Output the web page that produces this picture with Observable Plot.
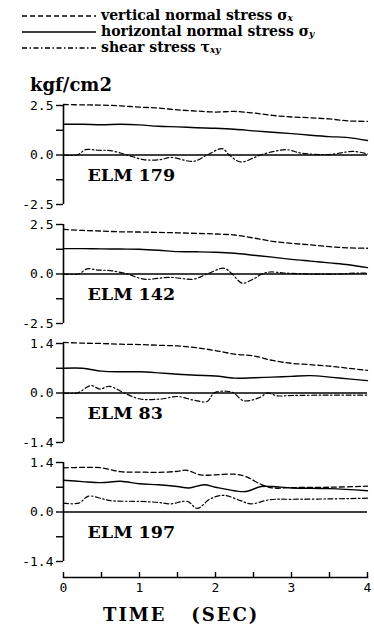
<!DOCTYPE html>
<html><head><meta charset="utf-8">
<script src="https://cdn.jsdelivr.net/npm/d3@7"></script>
<script src="https://cdn.jsdelivr.net/npm/@observablehq/plot@0.6"></script>
<style>
html,body{margin:0;padding:0;background:#fff;}
#root{position:relative;width:374px;height:629px;overflow:hidden;font-family:"DejaVu Serif",serif;color:#000;}
.abs{position:absolute;}
.lg{display:flex;align-items:center;height:16px;}
.lg span{font-weight:bold;font-size:14px;line-height:16px;margin-left:5px;white-space:nowrap;}
sub{font-size:9px;font-style:italic;vertical-align:-1px;line-height:0;}
</style></head>
<body><div id="root"></div>
<script>
// ---- data ----
const time = [0,0.25,0.5,0.75,1,1.25,1.5,1.75,2,2.25,2.5,2.75,3,3.25,3.5,3.75,4];

const elm179_sx = [2.55,2.53,2.52,2.48,2.42,2.37,2.28,2.22,2.17,2.2,2.12,2.0,1.92,1.88,1.82,1.72,1.7];
const elm179_sy = [1.55,1.55,1.53,1.55,1.52,1.45,1.42,1.38,1.35,1.3,1.22,1.15,1.08,1.0,0.93,0.88,0.73];
const elm179_tt = [0,0.18,0.29,0.45,0.62,0.84,1.05,1.28,1.41,1.71,1.89,2.09,2.18,2.33,2.5,2.59,2.77,2.94,3.12,3.47,3.82,4];
const elm179_txy = [0,0,0.27,0.24,0.22,0,-0.23,-0.23,-0.12,-0.32,0,0.32,0,-0.35,-0.15,0,0.18,0.27,0.1,0.02,0.18,0.05];

const elm142_sx = [2.25,2.2,2.17,2.13,2.12,2.1,2.08,2.05,2.02,1.97,1.82,1.65,1.55,1.47,1.38,1.32,1.3];
const elm142_sy = [1.28,1.28,1.27,1.26,1.25,1.2,1.13,1.12,1.1,1.05,0.95,0.85,0.74,0.65,0.56,0.47,0.32];
const elm142_tt = [0,0.2,0.31,0.45,0.62,0.84,1.06,1.4,1.71,1.89,2.11,2.22,2.35,2.5,2.61,2.72,2.9,3.2,3.6,3.9,4];
const elm142_txy = [0,0,0.26,0.2,0.17,0,-0.26,-0.17,-0.26,0,0.29,0,-0.46,-0.25,0,0.1,0.05,0,0,0.05,0.04];

const elm83_sx = [1.43,1.41,1.4,1.38,1.37,1.35,1.33,1.28,1.2,1.1,1.05,0.92,0.84,0.8,0.76,0.7,0.64];
const elm83_sy = [0.7,0.7,0.62,0.6,0.6,0.57,0.53,0.5,0.48,0.42,0.43,0.45,0.47,0.49,0.45,0.4,0.35];
const elm83_tt = [0,0.18,0.36,0.48,0.6,0.8,1.01,1.28,1.5,1.71,1.89,1.98,2.15,2.24,2.37,2.59,2.68,2.81,3.0,3.5,4];
const elm83_txy = [0,0,0.21,0.11,0.19,0,-0.17,-0.17,-0.1,-0.2,-0.24,0,0.05,0,-0.22,-0.12,0,-0.08,-0.07,-0.06,-0.06];

const elm197_tx = [0,0.25,0.5,0.75,1,1.25,1.5,1.62,1.8,2,2.25,2.4,2.6,2.75,3,3.5,4];
const elm197_sx = [1.25,1.26,1.25,1.14,1.13,1.12,1.15,1.18,1.05,1.05,1.07,1.0,0.78,0.68,0.69,0.7,0.73];
const elm197_ty = [0,0.25,0.5,0.75,1,1.25,1.5,1.65,1.85,2,2.25,2.4,2.6,2.75,3,3.5,4];
const elm197_sy = [0.9,0.86,0.83,0.87,0.8,0.77,0.72,0.68,0.77,0.7,0.6,0.58,0.72,0.72,0.68,0.66,0.6];
const elm197_tt = [0,0.2,0.33,0.5,0.62,1.0,1.25,1.41,1.63,1.76,1.93,2.11,2.33,2.46,2.72,3.0,3.5,4];
const elm197_txy = [0.25,0.25,0.45,0.38,0.32,0.3,0.27,0.23,0.3,0.1,0.37,0.47,0.32,0.23,0.35,0.36,0.37,0.39];

const ticks25 = [2.5,1.25,0,-1.25,-2.5];
const labels25 = ["2.5","","0.0","","-2.5"];
const ticks14 = [1.4,0.7,0,-0.7,-1.4];
const labels14 = ["1.4","","0.0","","-1.4"];
const xTicks = [0,0.5,1,1.5,2,2.5,3,3.5,4];
const xLabels = [0,1,2,3,4];
const seriesNames = ["vertical normal stress σ","horizontal  normal stress σ","shear stress τ"];
const seriesSubs = ["x","y","xy"];
const panelNames = ["ELM 179","ELM 142","ELM 83","ELM 197"];

// ---- layout ----
const root = document.getElementById("root");
const DASH = "5,3", DASHDOT = "5,2.5,1.5,2.5";
const styles = [DASH, null, DASHDOT];

// legend
const lg = document.createElement("div");
lg.className = "abs"; lg.style.left = "22px"; lg.style.top = "7px";
seriesNames.forEach((name, i) => {
  const row = document.createElement("div"); row.className = "lg";
  row.innerHTML = `<svg width="74" height="14" style="flex:none"><line x1="0" x2="74" y1="8" y2="8" stroke="#000" stroke-width="1.4" ${styles[i] ? `stroke-dasharray="${styles[i]}"` : ""}/></svg><span>${name}<sub>${seriesSubs[i]}</sub></span>`;
  lg.appendChild(row);
});
root.appendChild(lg);

const unit = document.createElement("div");
unit.className = "abs";
unit.style.cssText = "left:30px;top:74px;font-size:18px;font-weight:bold;line-height:22px;";
unit.textContent = "kgf/cm2";
root.appendChild(unit);

const panels = [
  {tx: time, sx: elm179_sx, ty: time, sy: elm179_sy, tt: elm179_tt, txy: elm179_txy, max: 2.5, ticks: ticks25, labels: labels25},
  {tx: time, sx: elm142_sx, ty: time, sy: elm142_sy, tt: elm142_tt, txy: elm142_txy, max: 2.5, ticks: ticks25, labels: labels25},
  {tx: time, sx: elm83_sx, ty: time, sy: elm83_sy, tt: elm83_tt, txy: elm83_txy, max: 1.4, ticks: ticks14, labels: labels14},
  {tx: elm197_tx, sx: elm197_sx, ty: elm197_ty, sy: elm197_sy, tt: elm197_tt, txy: elm197_txy, max: 1.4, ticks: ticks14, labels: labels14}
];

const tops = [97, 216, 335, 454];
const zip = (t, v) => t.map((d, i) => ({t: d, v: v[i]}));

panels.forEach((p, k) => {
  const lab = new Map(p.ticks.map((d, i) => [d, p.labels[i]]));
  const chart = Plot.plot({
    width: 374, height: 119,
    marginLeft: 63, marginRight: 7, marginTop: 8, marginBottom: 12,
    x: {domain: [0, 4], axis: null},
    y: {domain: [-p.max, p.max], axis: null},
    style: {background: "transparent", color: "#000"},
    marks: [
      Plot.ruleY([0], {stroke: "#000", strokeWidth: 1.6}),
      Plot.ruleX([0], {stroke: "#000", strokeWidth: 1.6}),
      Plot.axisY({ticks: p.ticks, tickFormat: d => lab.get(d), label: null, tickSize: 7, tickPadding: 3, stroke: "#000", strokeWidth: 1.4, fill: "#000", fontSize: 13, fontFamily: "DejaVu Sans Mono"}),
      Plot.line(zip(p.tx, p.sx), {x: "t", y: "v", stroke: "#000", strokeWidth: 1.3, strokeDasharray: DASH, curve: "catmull-rom"}),
      Plot.line(zip(p.ty, p.sy), {x: "t", y: "v", stroke: "#000", strokeWidth: 1.4, curve: "catmull-rom"}),
      Plot.line(zip(p.tt, p.txy), {x: "t", y: "v", stroke: "#000", strokeWidth: 1.2, strokeDasharray: DASHDOT, curve: "catmull-rom"}),
      Plot.text([panelNames[k]], {frameAnchor: "left", dx: 24, dy: 20, text: d => d, textAnchor: "start", fill: "#000", fontSize: 17.5, fontWeight: "bold", fontFamily: "DejaVu Serif"})
    ]
  });
  chart.classList.add("abs");
  chart.style.left = "0px"; chart.style.top = tops[k] + "px";
  root.appendChild(chart);
});

// x axis
const xa = Plot.plot({
  width: 374, height: 30,
  marginLeft: 63, marginRight: 7, marginTop: 3, marginBottom: 22,
  x: {domain: [0, 4]},
  style: {background: "transparent", color: "#000", overflow: "visible"},
  marks: [
    Plot.ruleX(xTicks, {stroke: "#000", strokeWidth: 1.4}),
    Plot.frame({anchor: "bottom", stroke: "#000", strokeWidth: 1.6}),
    Plot.axisX({ticks: xLabels, tickSize: 0, tickPadding: 5, tickFormat: d => String(d), fill: "#000", fontSize: 13, fontFamily: "DejaVu Sans Mono", label: null})
  ]
});
xa.classList.add("abs");
xa.style.left = "0px"; xa.style.top = "569px";
root.appendChild(xa);

const xl = document.createElement("div");
xl.className = "abs";
xl.style.cssText = "left:103px;top:605px;font-size:18px;letter-spacing:2px;font-weight:bold;white-space:pre;line-height:20px;";
xl.textContent = "TIME   (SEC)";
root.appendChild(xl);
</script>
</body></html>
